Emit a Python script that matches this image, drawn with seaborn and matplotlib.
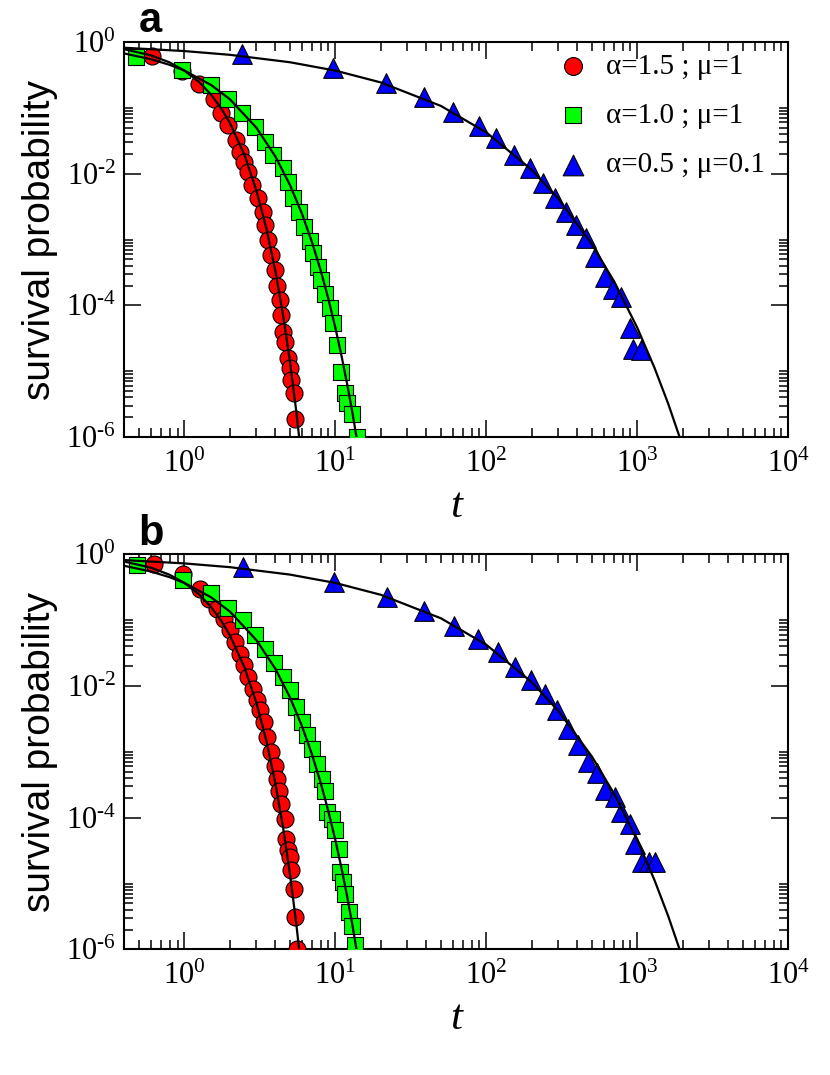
import numpy as np
import matplotlib
matplotlib.use('Agg')
import matplotlib.pyplot as plt
import matplotlib.ticker as mticker
import seaborn as sns

sns.set_style("ticks")
plt.rcParams['font.family'] = ['Liberation Serif', 'DejaVu Serif']
plt.rcParams['mathtext.fontset'] = 'custom'
plt.rcParams['mathtext.rm'] = 'Liberation Serif'
plt.rcParams['mathtext.it'] = 'Liberation Serif:italic'
plt.rcParams['axes.unicode_minus'] = False
for key in ['text.color', 'axes.labelcolor', 'xtick.color', 'ytick.color', 'axes.edgecolor']:
    plt.rcParams[key] = 'black'

# ── simulation points, panel a ──
a_red_t = [0.61, 0.97, 1.24, 1.56, 1.76, 1.95, 2.18, 2.35, 2.5, 2.65, 2.82, 3.09, 3.29, 3.44,
           3.60, 3.77, 4.0, 4.13, 4.32, 4.39, 4.53, 4.67, 4.88, 5.03, 5.11, 5.35, 5.43]
a_red_s = [0.61, 0.36, 0.23, 0.136, 0.083, 0.055, 0.032, 0.021, 0.015, 0.0107, 6.7e-3, 4.3e-3,
           2.6e-3, 1.66e-3, 9.8e-4, 5.8e-4, 3.4e-4, 2.0e-4, 1.2e-4, 7.1e-5, 3.9e-5, 2.8e-5,
           1.6e-5, 1.1e-5, 7.4e-6, 4.7e-6, 1.9e-6]
a_green_t = [0.48, 0.97, 1.49, 1.93, 2.42, 2.95, 3.44, 3.88, 4.53, 4.88, 5.27, 5.78, 6.23, 6.83,
             7.15, 7.71, 8.08, 8.59, 9.27, 9.70, 10.2, 10.96, 11.6, 12.0, 12.8, 13.8]
a_green_s = [0.59, 0.375, 0.22, 0.136, 0.083, 0.051, 0.030, 0.019, 0.012, 0.0075, 4.3e-3, 2.6e-3,
             1.55e-3, 9.5e-4, 6.2e-4, 3.8e-4, 2.4e-4, 1.5e-4, 9.1e-5, 5.4e-5, 2.5e-5, 9.7e-6,
             4.7e-6, 3.3e-6, 2.2e-6, 1.0e-6]
a_blue_t = [2.42, 9.7, 21.8, 38.8, 60.4, 90, 116, 153, 195, 238, 286, 339, 395, 459, 527, 614,
            693, 783, 899, 942, 1062]
a_blue_s = [0.66, 0.40, 0.24, 0.146, 0.086, 0.053, 0.035, 0.019, 0.0122, 7.2e-3, 4.3e-3, 2.6e-3,
            1.66e-3, 1.05e-3, 5.4e-4, 2.7e-4, 1.8e-4, 1.35e-4, 4.6e-5, 2.2e-5, 2.1e-5]

# ── simulation points, panel b ──
b_red_t = [0.63, 0.98, 1.27, 1.46, 1.64, 1.82, 2.01, 2.17, 2.34, 2.47, 2.64, 2.83, 3.03, 3.19,
           3.35, 3.51, 3.77, 3.96, 4.11, 4.26, 4.39, 4.67, 4.71, 4.86, 5.03, 5.10, 5.29, 5.43, 5.57]
b_red_s = [0.72, 0.51, 0.30, 0.21, 0.150, 0.105, 0.070, 0.047, 0.031, 0.0206, 0.0137, 9.1e-3,
           6.1e-3, 4.3e-3, 2.8e-3, 1.7e-3, 1.0e-3, 6.2e-4, 3.9e-4, 2.5e-4, 1.6e-4, 9.7e-5,
           4.8e-5, 3.2e-5, 2.5e-5, 1.6e-5, 8.3e-6, 3.1e-6, 1.0e-6]
b_green_t = [0.485, 0.98, 1.49, 1.94, 2.43, 2.94, 3.43, 3.9, 4.48, 5.03, 5.5, 6.0, 6.47, 7.0, 7.55,
             8.15, 8.58, 8.8, 9.5, 10.0, 10.6, 10.8, 11.3, 11.6, 12.3, 12.9, 13.5]
b_green_s = [0.68, 0.41, 0.26, 0.155, 0.10, 0.059, 0.037, 0.022, 0.0137, 8.6e-3, 4.8e-3, 2.8e-3,
             1.8e-3, 1.1e-3, 6.6e-4, 3.9e-4, 2.5e-4, 1.2e-4, 9.7e-5, 6.4e-5, 3.4e-5, 1.5e-5,
             1.05e-5, 7.0e-6, 3.7e-6, 2.3e-6, 1.15e-6]
b_blue_t = [2.43, 9.73, 22, 38.9, 60.7, 88, 119, 154, 199, 243, 293, 347, 404, 470, 540, 613, 707,
            783, 899, 960, 1072, 1188, 1315]
b_blue_s = [0.64, 0.38, 0.225, 0.138, 0.083, 0.052, 0.033, 0.0194, 0.0122, 7.7e-3, 4.3e-3,
            2.25e-3, 1.26e-3, 7.0e-4, 4.7e-4, 2.6e-4, 2.06e-4, 1.2e-4, 8.1e-5, 4.0e-5, 2.1e-5,
            2.1e-5, 2.1e-5]

# ── theory curves (same in both panels) ──
line_red_t = [0.4, 0.6, 0.8, 1.0, 1.25, 1.5, 1.75, 2.0, 2.5, 3.0, 3.5, 4.0, 4.5, 5.0, 5.5, 5.9]
line_red_s = [0.7765, 0.6283, 0.4890, 0.3679, 0.2472, 0.1593, 0.0988, 0.0591, 0.0192, 5.54e-3,
              1.43e-3, 3.35e-4, 7.15e-5, 1.40e-5, 2.50e-6, 5.98e-7]
line_green_t = [0.4, 0.6, 0.8, 1.0, 1.5, 2, 3, 4, 5, 6, 7, 8, 9, 10, 11, 12, 13, 14.5]
line_green_s = [0.6703, 0.5488, 0.4493, 0.3679, 0.2231, 0.1353, 0.04979, 0.01832, 6.738e-3,
                2.479e-3, 9.119e-4, 3.355e-4, 1.234e-4, 4.540e-5, 1.670e-5, 6.144e-6, 2.260e-6,
                5.0e-7]
line_blue_t = [0.4, 1, 2, 5, 10, 20, 50, 100, 200, 300, 500, 700, 1000, 1300, 1600, 2000]
line_blue_s = [0.8187, 0.7289, 0.6394, 0.4931, 0.3679, 0.2431, 0.1069, 0.04232, 0.01142,
               4.180e-3, 8.49e-4, 2.326e-4, 4.540e-5, 1.118e-5, 3.21e-6, 7.2e-7]

labels = ['α=1.5 ; μ=1', 'α=1.0 ; μ=1', 'α=0.5 ; μ=0.1']
y_major = [1e-6, 1e-4, 1e-2, 1.0]
y_minor = [k * 10.0 ** e for e in (-6, -4, -2) for k in range(2, 11)]


def log_label(v, _):
    e = int(round(np.log10(v)))
    # short hyphen for the minus, as in the original figure
    exp = r'\text{-}%d' % abs(e) if e < 0 else '%d' % e
    return r'$\mathdefault{10^{%s}}$' % exp


def draw_panel(ax, red_t, red_s, green_t, green_s, blue_t, blue_s, letter, show_legend):
    kw = dict(ax=ax, edgecolor='black', linewidth=0.8, zorder=3)
    sns.scatterplot(x=red_t, y=red_s, marker='o', color='#ff0000', s=150, label=labels[0], **kw)
    sns.scatterplot(x=green_t, y=green_s, marker='s', color='#00ff00', s=135, label=labels[1], **kw)
    sns.scatterplot(x=blue_t, y=blue_s, marker='^', color='#0000ff', s=200, label=labels[2], **kw)
    for lt, ls in [(line_red_t, line_red_s), (line_green_t, line_green_s), (line_blue_t, line_blue_s)]:
        sns.lineplot(x=lt, y=ls, ax=ax, color='black', lw=1.6, sort=False, estimator=None,
                     legend=False, zorder=4)

    ax.set_xscale('log')
    ax.set_yscale('log')
    ax.set_xlim(0.4, 1e4)
    ax.set_ylim(1e-6, 1.0)

    ax.xaxis.set_major_locator(mticker.LogLocator(base=10, numticks=20))
    ax.xaxis.set_minor_locator(mticker.LogLocator(base=10, subs=np.arange(2, 10), numticks=20))
    ax.yaxis.set_major_locator(mticker.FixedLocator(y_major))
    ax.yaxis.set_minor_locator(mticker.FixedLocator(y_minor))
    ax.xaxis.set_major_formatter(mticker.FuncFormatter(log_label))
    ax.yaxis.set_major_formatter(mticker.FuncFormatter(log_label))
    ax.xaxis.set_minor_formatter(mticker.NullFormatter())
    ax.yaxis.set_minor_formatter(mticker.NullFormatter())

    ax.tick_params(which='both', direction='in', top=True, right=True, width=1.1, color='black')
    ax.tick_params(which='major', length=12, labelsize=22)
    ax.tick_params(axis='x', which='major', pad=9)
    ax.tick_params(axis='y', which='major', pad=6)
    ax.tick_params(which='minor', length=6.5)
    for sp in ax.spines.values():
        sp.set_linewidth(1.5)
        sp.set_color('black')

    ax.set_xlabel('t', fontsize=31, fontstyle='italic', family='Liberation Serif', labelpad=6)
    ax.set_ylabel('survival probability', fontsize=28, family='Liberation Sans', labelpad=6)
    ax.text(0.021, 1.025, letter, transform=ax.transAxes, fontsize=30, fontweight='bold',
            family='Liberation Sans', va='baseline', ha='left', color='black')

    if show_legend:
        ax.legend(loc='upper right', bbox_to_anchor=(0.987, 1.008), frameon=False, fontsize=21,
                  handlelength=1.0, handletextpad=0.65, labelspacing=0.78, borderaxespad=0.1,
                  markerscale=1.05)
    else:
        leg = ax.get_legend()
        if leg is not None:
            leg.remove()


fig = plt.figure(figsize=(8.3, 10.75), dpi=100)
ax_a = fig.add_axes([0.1498, 0.5935, 0.8, 0.3674])
ax_b = fig.add_axes([0.1498, 0.1169, 0.8, 0.3674])

draw_panel(ax_a, a_red_t, a_red_s, a_green_t, a_green_s, a_blue_t, a_blue_s, 'a', True)
draw_panel(ax_b, b_red_t, b_red_s, b_green_t, b_green_s, b_blue_t, b_blue_s, 'b', False)

fig.savefig('out.png', dpi=100)
plt.close()
